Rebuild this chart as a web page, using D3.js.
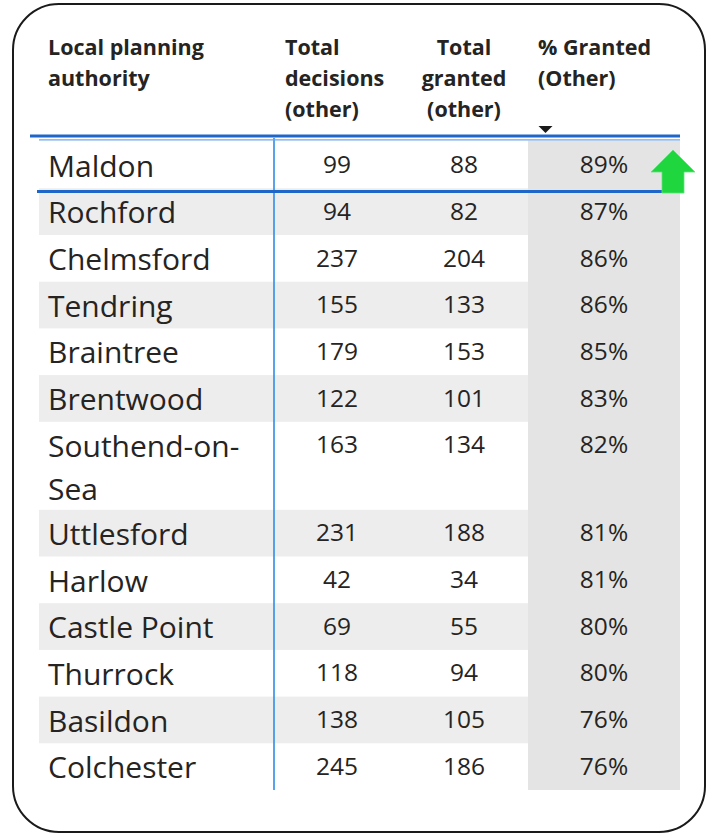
<!DOCTYPE html>
<html>
<head>
<meta charset="utf-8">
<script src="https://cdn.jsdelivr.net/npm/d3@7"></script>
<style>
  html, body { margin: 0; padding: 0; background: #fff; }
  svg { display: block; font-family: "Open Sans", sans-serif; }
</style>
</head>
<body>
<svg id="chart" width="708" height="835"></svg>
<script>
// table data
const authorities = ['Maldon', 'Rochford', 'Chelmsford', 'Tendring', 'Braintree', 'Brentwood',
  'Southend-on-Sea', 'Uttlesford', 'Harlow', 'Castle Point', 'Thurrock', 'Basildon', 'Colchester']
const totalDecisions = [99, 94, 237, 155, 179, 122, 163, 231, 42, 69, 118, 138, 245]
const totalGranted = [88, 82, 204, 133, 153, 101, 134, 188, 34, 55, 94, 105, 186]
const pctGranted = [89, 87, 86, 86, 85, 83, 82, 81, 81, 80, 80, 76, 76]
const headers = [
  ['Local planning', 'authority'],
  ['Total', 'decisions', '(other)'],
  ['Total', 'granted', '(other)'],
  ['% Granted', '(Other)']
]

const svg = d3.select('#chart')
const textColor = '#252423'

// outer card
svg.append('rect')
  .attr('x', 13).attr('y', 4)
  .attr('width', 692).attr('height', 828)
  .attr('rx', 46)
  .attr('fill', '#fff')
  .attr('stroke', '#1a1a1a')
  .attr('stroke-width', 2)

// column edges
const colEdges = [39, 274, 400, 528, 680]
const tableTop = 141.6
const tableBottom = 790
const lineH = 41.3
const rowPad = 5.4

const g = svg.append('g')

// wrap names into lines that fit the first column
const measure = g.append('text').attr('font-size', 30).attr('visibility', 'hidden')
const maxW = colEdges[1] - 48 - 8
const nameLines = authorities.map((name) => {
  measure.text(name)
  if (measure.node().getComputedTextLength() <= maxW) return [name]
  let cut = name.lastIndexOf('-', name.length - 2)
  while (cut > 0) {
    measure.text(name.slice(0, cut + 1))
    if (measure.node().getComputedTextLength() <= maxW) break
    cut = name.lastIndexOf('-', cut - 1)
  }
  return [name.slice(0, cut + 1), name.slice(cut + 1)]
})
measure.remove()

const rows = authorities.map((name, i) => ({
  name,
  lines: nameLines[i],
  decisions: totalDecisions[i],
  granted: totalGranted[i],
  pct: pctGranted[i]
}))

// row layout from line counts
const units = rows.map((d) => rowPad + lineH * d.lines.length)
const cum = d3.cumsum(units)
const y = d3.scaleLinear().domain([0, cum[cum.length - 1]]).range([tableTop, tableBottom])
rows.forEach((d, i) => {
  d.y0 = y(i === 0 ? 0 : cum[i - 1])
  d.y1 = y(cum[i])
})

// striped rows
g.selectAll('rect.stripe')
  .data(rows.filter((d, i) => i % 2 === 1))
  .enter()
  .append('rect')
  .attr('class', 'stripe')
  .attr('x', colEdges[0])
  .attr('y', (d) => d.y0)
  .attr('width', colEdges[3] - colEdges[0])
  .attr('height', (d) => d.y1 - d.y0)
  .attr('fill', '#ededed')

// sorted column shading
g.append('rect')
  .attr('x', colEdges[3]).attr('y', tableTop - 1)
  .attr('width', colEdges[4] - colEdges[3])
  .attr('height', tableBottom - tableTop + 1)
  .attr('fill', '#e4e4e4')

// headers
const headerX = [48, 285, (colEdges[2] + colEdges[3]) / 2, 538]
const headerAnchor = ['start', 'start', 'middle', 'start']
headers.forEach((lines, c) => {
  const t = g.append('text')
    .attr('font-size', 21.5)
    .attr('font-weight', 700)
    .attr('fill', textColor)
    .attr('text-anchor', headerAnchor[c])
  lines.forEach((l, k) => {
    t.append('tspan').attr('x', headerX[c]).attr('y', 55 + k * 31).text(l)
  })
})

// sort indicator
g.append('path')
  .attr('d', d3.line()([[538.5, 126], [552.5, 126], [545.5, 133]]) + 'Z')
  .attr('fill', '#1a1a1a')

// body cells
const rowG = g.selectAll('g.row')
  .data(rows)
  .enter()
  .append('g')
  .attr('class', 'row')

rowG.append('text')
  .attr('font-size', 30)
  .attr('fill', textColor)
  .selectAll('tspan')
  .data((d) => d.lines.map((l, k) => ({ l, y: d.y0 + 35 + k * 43 })))
  .enter()
  .append('tspan')
  .attr('x', 48)
  .attr('y', (d) => d.y)
  .text((d) => d.l)

const numCols = [
  { key: 'decisions', fmt: (v) => v },
  { key: 'granted', fmt: (v) => v },
  { key: 'pct', fmt: (v) => v + '%' }
]
numCols.forEach((col, c) => {
  rowG.append('text')
    .attr('font-size', 24.5)
    .attr('fill', textColor)
    .attr('text-anchor', 'middle')
    .attr('x', (colEdges[c + 1] + colEdges[c + 2]) / 2)
    .attr('y', (d) => d.y0 + 31.5)
    .text((d) => col.fmt(d[col.key]))
})

// grid / selection lines
g.append('line')
  .attr('x1', colEdges[1]).attr('x2', colEdges[1])
  .attr('y1', 138).attr('y2', tableBottom)
  .attr('stroke', '#2f8ce8').attr('stroke-width', 1.6)

g.append('line')
  .attr('x1', 30).attr('x2', colEdges[4])
  .attr('y1', 136).attr('y2', 136)
  .attr('stroke', '#1f66c9').attr('stroke-width', 3)

g.append('line')
  .attr('x1', colEdges[0]).attr('x2', colEdges[4])
  .attr('y1', 139.8).attr('y2', 139.8)
  .attr('stroke', '#6aa8ee').attr('stroke-width', 1.2)

g.append('line')
  .attr('x1', 37).attr('x2', 662)
  .attr('y1', 191.6).attr('y2', 191.6)
  .attr('stroke', '#1f66c9').attr('stroke-width', 3)

// trend arrow
g.append('path')
  .attr('d', d3.line()([[651, 172], [673, 150], [695, 172], [684, 172], [684, 193], [662, 193], [662, 172]]) + 'Z')
  .attr('fill', '#1fd63e')
  .attr('stroke', '#5fe27a')
  .attr('stroke-width', 0.8)
</script>
</body>
</html>
